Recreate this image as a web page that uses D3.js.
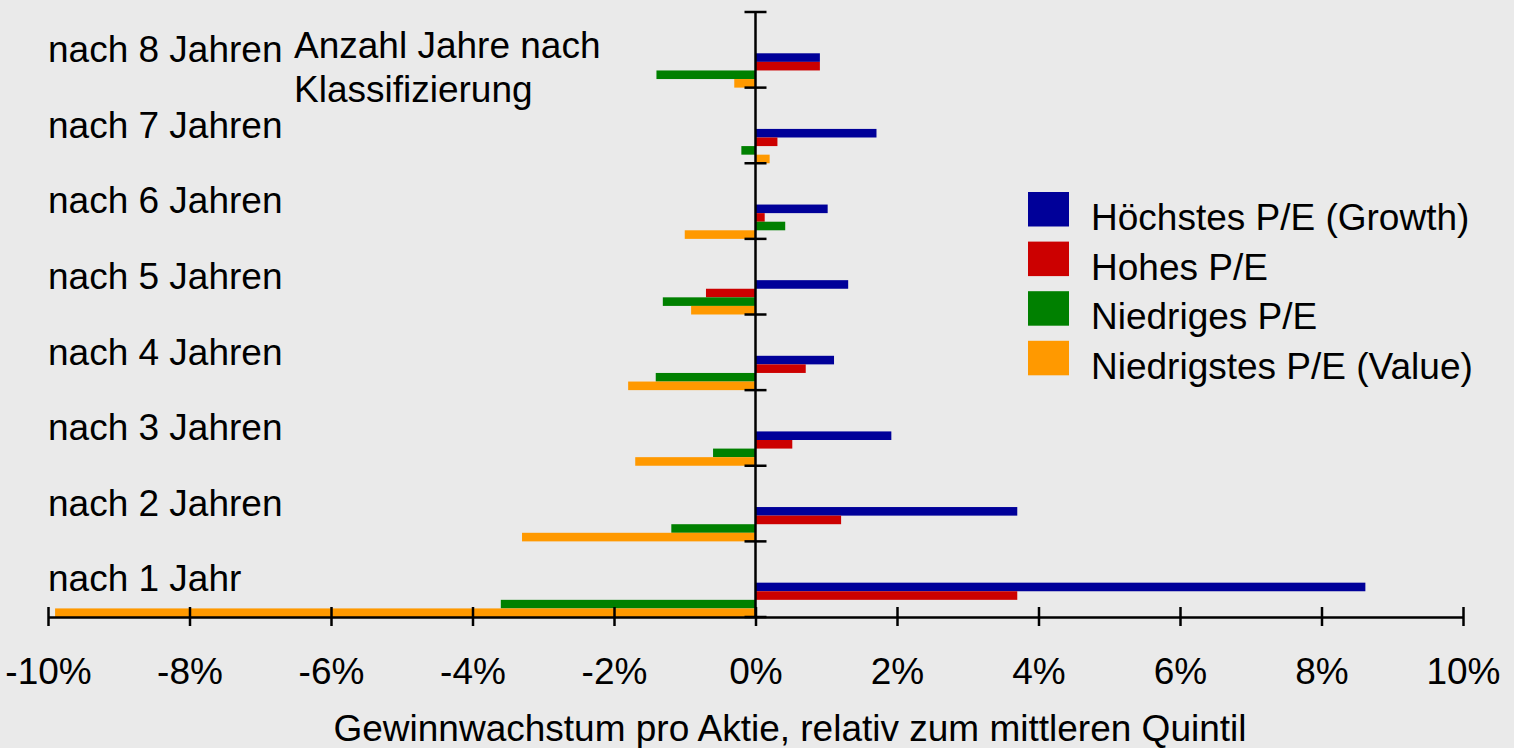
<!DOCTYPE html>
<html>
<head>
<meta charset="utf-8">
<script src="https://cdn.jsdelivr.net/npm/d3@7"></script>
<style>
  html, body { margin: 0; padding: 0; background: #eaeaea; }
  svg { display: block; font-family: "Liberation Sans", Arial, Helvetica, sans-serif; }
</style>
</head>
<body>
<svg id="chart" width="1514" height="748"></svg>
<script>
// ---- data ----
const categories = ["nach 1 Jahr", "nach 2 Jahren", "nach 3 Jahren", "nach 4 Jahren",
                    "nach 5 Jahren", "nach 6 Jahren", "nach 7 Jahren", "nach 8 Jahren"];
const seriesNames = ["Höchstes P/E (Growth)", "Hohes P/E", "Niedriges P/E", "Niedrigstes P/E (Value)"];
const growthPE  = [8.62, 3.70, 1.92, 1.11, 1.31, 1.02, 1.71, 0.91];
const highPE    = [3.70, 1.21, 0.52, 0.71, -0.70, 0.13, 0.31, 0.91];
const lowPE     = [-3.60, -1.19, -0.60, -1.41, -1.31, 0.42, -0.20, -1.40];
const valuePE   = [-9.90, -3.30, -1.70, -1.80, -0.91, -1.00, 0.20, -0.30];
const xTicks = [-10, -8, -6, -4, -2, 0, 2, 4, 6, 8, 10];
const xTickLabels = ["-10%", "-8%", "-6%", "-4%", "-2%", "0%", "2%", "4%", "6%", "8%", "10%"];
const axisTitle = "Gewinnwachstum pro Aktie, relativ zum mittleren Quintil";
const groupTitle = ["Anzahl Jahre nach", "Klassifizierung"];
const colors = ["#000099", "#cc0000", "#008000", "#ff9900"];

const seriesValues = [growthPE, highPE, lowPE, valuePE];

// ---- layout ----
const svg = d3.select("#chart");
const fontSize = 37;

const x = d3.scaleLinear().domain([-10, 10]).range([48, 1463]);
const y = d3.scaleBand().domain(categories.slice().reverse()).range([12, 617]).paddingInner(0).paddingOuter(0);
const barBand = d3.scaleBand().domain(d3.range(seriesNames.length))
  .range([y.bandwidth() * 0.546, y.bandwidth()]).padding(0);

// bars
const groups = svg.append("g").selectAll("g")
  .data(categories)
  .join("g")
  .attr("transform", d => `translate(0,${y(d)})`);

groups.each(function(cat, ci) {
  d3.select(this).selectAll("rect")
    .data(seriesValues.map((s, si) => ({ si, v: s[ci] })))
    .join("rect")
    .attr("x", d => x(Math.min(0, d.v)))
    .attr("width", d => Math.abs(x(d.v) - x(0)))
    .attr("y", d => barBand(d.si))
    .attr("height", barBand.bandwidth())
    .attr("fill", d => colors[d.si]);
});

// category labels
svg.append("g").selectAll("text")
  .data(categories)
  .join("text")
  .attr("x", 48)
  .attr("y", d => y(d) + 50)
  .attr("font-size", fontSize)
  .attr("fill", "#000")
  .text(d => d);

// group title
svg.append("text")
  .attr("x", 294)
  .attr("y", 58)
  .attr("font-size", fontSize)
  .selectAll("tspan")
  .data(groupTitle)
  .join("tspan")
  .attr("x", 294)
  .attr("dy", (d, i) => i === 0 ? 0 : 44)
  .text(d => d);

// y axis (at zero)
const yAxisG = svg.append("g");
yAxisG.append("line")
  .attr("x1", x(0)).attr("x2", x(0))
  .attr("y1", y.range()[0]).attr("y2", y.range()[1])
  .attr("stroke", "#000").attr("stroke-width", 2.5);
const yTickPos = categories.map(c => y(c)).concat([y.range()[1]]);
yAxisG.selectAll("line.tick")
  .data(yTickPos)
  .join("line")
  .attr("class", "tick")
  .attr("x1", x(0) - 11).attr("x2", x(0) + 11)
  .attr("y1", d => d).attr("y2", d => d)
  .attr("stroke", "#000").attr("stroke-width", 2.5);

// x axis
const xAxis = d3.axisBottom(x)
  .tickValues(xTicks)
  .tickFormat((d, i) => xTickLabels[i])
  .tickSizeInner(10)
  .tickSizeOuter(0)
  .tickPadding(0);

const xAxisG = svg.append("g")
  .attr("transform", `translate(0,${y.range()[1]})`)
  .call(xAxis);
xAxisG.select(".domain").attr("stroke", "#000").attr("stroke-width", 2.5);
xAxisG.selectAll(".tick line")
  .attr("y1", -10).attr("y2", 9)
  .attr("stroke", "#000").attr("stroke-width", 2.5);
xAxisG.selectAll(".tick text")
  .attr("y", 67)
  .attr("dy", 0)
  .attr("font-size", fontSize)
  .attr("font-family", "Liberation Sans, Arial, sans-serif")
  .attr("fill", "#000");

// axis title
svg.append("text")
  .attr("x", 790)
  .attr("y", 741)
  .attr("text-anchor", "middle")
  .attr("font-size", fontSize)
  .text(axisTitle);

// legend
const legend = svg.append("g").selectAll("g")
  .data(seriesNames)
  .join("g")
  .attr("transform", (d, i) => `translate(1028,${192 + i * 49.6})`);
legend.append("rect")
  .attr("width", 41).attr("height", 34.5)
  .attr("fill", (d, i) => colors[i]);
legend.append("text")
  .attr("x", 63)
  .attr("y", 38)
  .attr("font-size", fontSize)
  .text(d => d);
</script>
</body>
</html>
